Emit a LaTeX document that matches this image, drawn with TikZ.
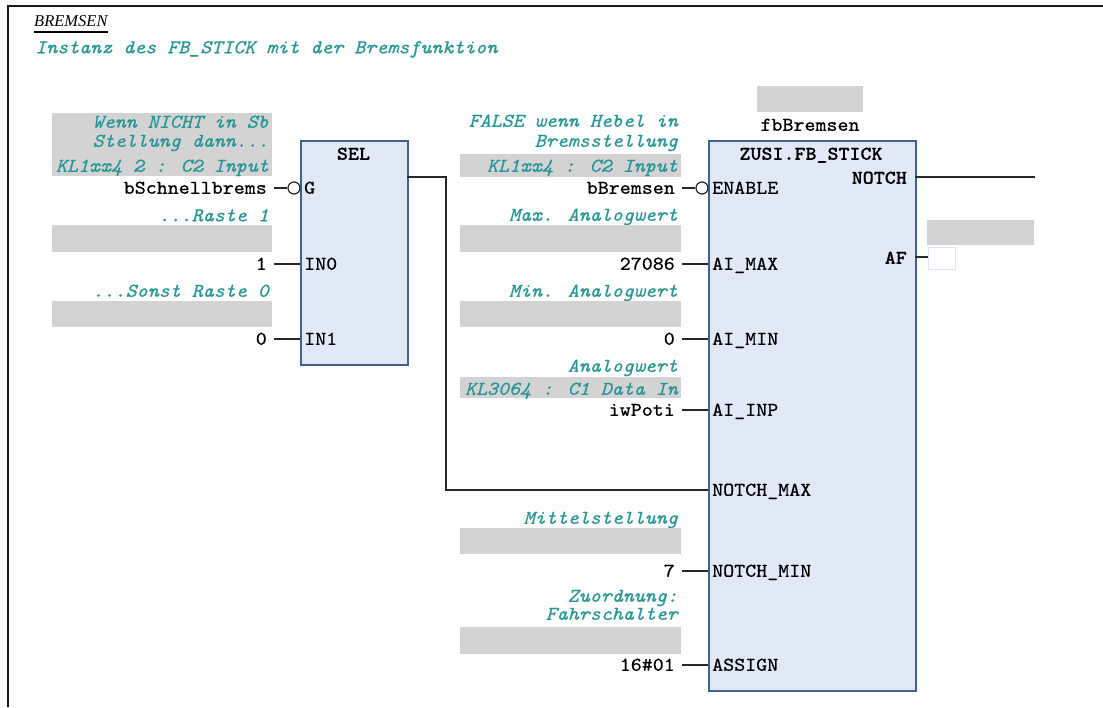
\documentclass[tikz,border=0pt]{standalone}
\usepackage{fontspec}
\newfontfamily\codefont[Extension=.otf,
  UprightFont=lmmono10-regular,
  ItalicFont=lmmono10-italic,
  BoldFont=lmmonolt10-bold,
  FakeStretch=1.075,
  FakeBold=0.6]{lmmono10-regular}
\newfontfamily\headfont{Liberation Serif}
\definecolor{cmt}{RGB}{40,150,150}
\definecolor{cmtbg}{RGB}{211,211,211}
\definecolor{fbfill}{RGB}{225,233,246}
\definecolor{fbdraw}{RGB}{65,95,155}
\definecolor{wirecol}{RGB}{40,40,40}
\definecolor{emptybox}{RGB}{225,225,245}
\newcommand{\codesize}{\fontsize{19.5}{20}\selectfont}
\tikzset{
  code/.style={font=\codefont\codesize, text height=11.5pt, text depth=0pt, inner ysep=0pt},
  cmtline/.style={code, font=\codefont\itshape\codesize, text=cmt, anchor=east, inner xsep=3pt},
  value/.style={code, anchor=east, inner xsep=7pt},
  pinin/.style={code, anchor=west, inner xsep=4pt},
  pinout/.style={code, font=\codefont\bfseries\codesize, anchor=east, inner xsep=8pt},
  fbtitle/.style={code, font=\codefont\bfseries\codesize},
  fblock/.style={draw=fbdraw, fill=fbfill, line width=1.6pt, anchor=north west, inner sep=0pt},
  cmtbox/.style={fill=cmtbg, anchor=north west, inner sep=0pt, minimum width=#1},
  cmtbox/.default=220pt,
  neg/.style={circle, draw=wirecol, fill=white, line width=1.2pt, minimum size=12pt, inner sep=0pt},
  wire/.style={draw=wirecol, line width=1.4pt},
}
\begin{document}
\begin{tikzpicture}[x=1pt,y=-1pt]
\useasboundingbox (0,0) rectangle (1103,707);

% network frame
\draw[line width=2.4pt, black!90] (1103,6) -- (8,6) -- (8,707);

% network title and comment
\node[font=\headfont\itshape\fontsize{16.5}{18}\selectfont, anchor=base west, inner sep=0pt] (title) at (34,26) {BREMSEN};
\draw[line width=1.3pt] ([yshift=-6pt]title.base west) -- ([yshift=-6pt]title.base east);
\node[code, font=\codefont\itshape\codesize, text=cmt, anchor=west, inner xsep=0pt] (desc) at (35,47.5) {Instanz des FB\_STICK mit der Bremsfunktion};

% ---------------- SEL block ----------------
\node[fblock, minimum width=107pt, minimum height=224pt] (sel) at (300,140) {};
\node[fbtitle] (seltitle) at (353.5,154) {SEL};
\node[pinin] (selG) at (300,188) {G};
\node[pinin] (selIN0) at (300,264) {IN0};
\node[pinin] (selIN1) at (300,339) {IN1};
\coordinate (selQ) at (407,177);

% inputs of SEL
\node[cmtbox, minimum height=63pt] (cbG) at (52,113) {};
\node[cmtline] (cG1) at (272,122) {Wenn NICHT in Sb};
\node[cmtline] (cG2) at (272,141) {Stellung dann...};
\node[cmtline] (cG3) at (272,166) {KL1xx4 2 : C2 Input};
\node[value] (vG) at (274,188) {bSchnellbrems};
\node[neg] (nG) at (294,188) {};
\draw[wire] (vG.east) -- (nG.west);

\node[cmtline] (cIN0) at (272,215.5) {...Raste 1};
\node[cmtbox, minimum height=27pt] (cbIN0) at (52,225) {};
\node[value] (vIN0) at (274,264) {1};
\draw[wire] (vIN0.east) -- (selIN0.west);

\node[cmtline] (cIN1) at (272,291) {...Sonst Raste 0};
\node[cmtbox, minimum height=26pt] (cbIN1) at (52,301) {};
\node[value] (vIN1) at (274,339) {0};
\draw[wire] (vIN1.east) -- (selIN1.west);

% ---------------- FB_STICK instance ----------------
\node[cmtbox=106pt, minimum height=26pt] (cbInst) at (757,86) {};
\node[code] (inst) at (810,125) {fbBremsen};
\node[fblock, minimum width=207pt, minimum height=550pt] (fb) at (708,140) {};
\node[fbtitle] (fbtitle) at (811,154) {ZUSI.FB\_STICK};

\node[pinin] (pEN) at (708,188) {ENABLE};
\node[pinin] (pMAX) at (708,264) {AI\_MAX};
\node[pinin] (pMIN) at (708,339) {AI\_MIN};
\node[pinin] (pINP) at (708,410) {AI\_INP};
\node[pinin] (pNMAX) at (708,490) {NOTCH\_MAX};
\node[pinin] (pNMIN) at (708,571) {NOTCH\_MIN};
\node[pinin] (pASG) at (708,665) {ASSIGN};

\node[pinout] (pNOTCH) at (915,178) {NOTCH};
\node[pinout] (pAF) at (915,258) {AF};
\coordinate (qNOTCH) at (915,177);
\coordinate (qAF) at (915,257);

% outputs
\coordinate (notchEnd) at (1035,177);
\draw[wire] (qNOTCH) -- (notchEnd);
\node[cmtbox=107pt, minimum height=25pt] (cbAF) at (927,220) {};
\node[draw=emptybox, fill=white, line width=1pt, minimum width=27pt, minimum height=22pt, inner sep=0pt, anchor=west] (afVar) at (928,258) {};
\draw[wire] (qAF) -- (afVar.west |- qAF);

% inputs of FB_STICK
\node[cmtline] (cEN1) at (681,121) {FALSE wenn Hebel in};
\node[cmtline] (cEN2) at (681,141) {Bremsstellung};
\node[cmtbox=221pt, minimum height=23pt] (cbEN) at (460,154) {};
\node[cmtline] (cEN3) at (681,166) {KL1xx4 : C2 Input};
\node[value] (vEN) at (682,188) {bBremsen};
\node[neg] (nEN) at (702,188) {};
\draw[wire] (vEN.east) -- (nEN.west);

\node[cmtline] (cMAX) at (681,215) {Max. Analogwert};
\node[cmtbox=221pt, minimum height=27pt] (cbMAX) at (460,225) {};
\node[value] (vMAX) at (682,264) {27086};
\draw[wire] (vMAX.east) -- (pMAX.west);

\node[cmtline] (cMIN) at (681,291) {Min. Analogwert};
\node[cmtbox=221pt, minimum height=26pt] (cbMIN) at (460,301) {};
\node[value] (vMIN) at (682,339) {0};
\draw[wire] (vMIN.east) -- (pMIN.west);

\node[cmtline] (cINP1) at (681,366) {Analogwert};
\node[cmtbox=221pt, minimum height=21pt] (cbINP) at (460,377) {};
\node[cmtline] (cINP2) at (681,389) {KL3064 : C1 Data In};
\node[value] (vINP) at (682,410) {iwPoti};
\draw[wire] (vINP.east) -- (pINP.west);

\node[cmtline] (cNMIN) at (681,518) {Mittelstellung};
\node[cmtbox=221pt, minimum height=26pt] (cbNMIN) at (460,528) {};
\node[value] (vNMIN) at (682,571) {7};
\draw[wire] (vNMIN.east) -- (pNMIN.west);

\node[cmtline] (cASG1) at (681,596) {Zuordnung:};
\node[cmtline] (cASG2) at (681,614) {Fahrschalter};
\node[cmtbox=221pt, minimum height=27pt] (cbASG) at (460,627) {};
\node[value] (vASG) at (682,665) {16\#01};
\draw[wire] (vASG.east) -- (pASG.west);

% SEL output feeds NOTCH_MAX
\draw[wire] (selQ) -- ++(39,0) |- (pNMAX.west);
\end{tikzpicture}
\end{document}
